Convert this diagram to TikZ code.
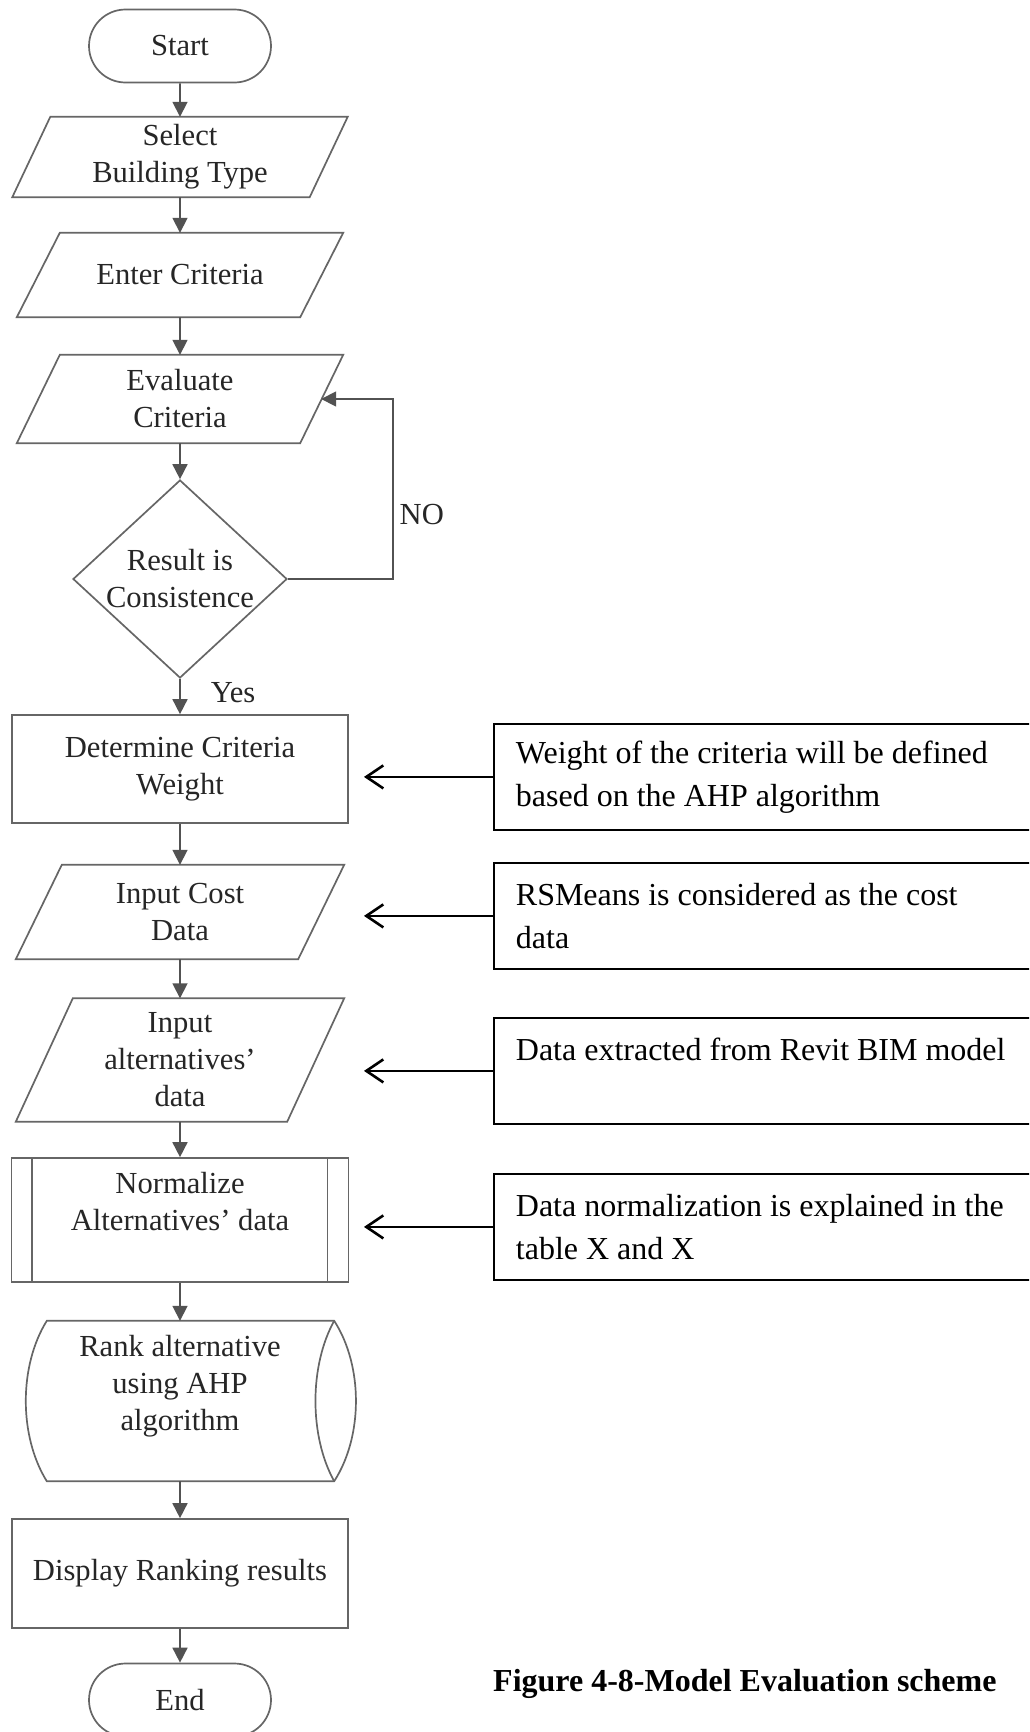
\documentclass[tikz,border=0pt]{standalone}
\usepackage{fontspec}
\setmainfont{Liberation Serif}
\usetikzlibrary{arrows.meta,shapes.geometric,shapes.misc,calc}

% outline of an input/output parallelogram drawn over an invisible frame node
\newcommand\iobox[2]{%
  \draw[shapeline] ($(#1.north west)+(#2,0)$) -- (#1.north east)
    -- ($(#1.south east)-(#2,0)$) -- (#1.south west) -- cycle;}

\begin{document}
\begin{tikzpicture}[x=1pt,y=-1pt,
  shapeline/.style={draw=black!60, line width=1.7pt},
  ftext/.style={font=\fontsize{30.6}{37}\selectfont, text=black!85, align=center},
  term/.style={rounded rectangle, shapeline, ftext, minimum width=182pt, minimum height=73pt, inner sep=0pt},
  proc/.style={rectangle, shapeline, ftext, minimum width=336pt, inner sep=0pt},
  frame/.style={rectangle, ftext, inner sep=0pt},
  decision/.style={diamond, shapeline, minimum width=214pt, minimum height=198pt, inner sep=0pt},
  flow/.style={draw=black!68, line width=1.7pt, -{Triangle[length=15pt,width=15pt]}},
  note/.style={rectangle, draw=black, line width=1.8pt, anchor=north west, minimum height=106pt,
    text width=516pt, inner xsep=22pt, inner ysep=0pt, align=flush left, font=\fontsize{32}{43}\selectfont},
  notearrow/.style={draw=black, line width=2.6pt, -{Straight Barb[length=17pt,width=23pt]}},
  lbl/.style={font=\fontsize{30.6}{37}\selectfont, text=black!85, inner sep=0pt},
]
\useasboundingbox (0,0) rectangle (1029,1732);
\fill[white] (0,0) rectangle (1029,1732);
\clip (0,0) rectangle (1029,1732);

% main flow
\node[term] (start) at (180,46) {Start};
\node[frame, minimum width=335pt, minimum height=80pt] (sel) at (180,157) {Select\\Building Type};
\node[frame, minimum width=326pt, minimum height=84pt] (ent) at (180,275) {Enter Criteria};
\node[frame, minimum width=326pt, minimum height=88pt] (eva) at (180,399) {Evaluate\\Criteria};
\node[decision] (dec) at (180,579) {};
\node[lbl, align=center] (dect) at (dec) {Result is\\Consistence};
\node[proc, minimum height=108pt] (det) at (180,769) {Determine Criteria\\Weight};
\node[frame, minimum width=328pt, minimum height=94pt] (cost) at (180,912) {Input Cost\\Data};
\node[frame, minimum width=328pt, minimum height=123pt] (alt) at (180,1060) {Input\\alternatives'\\data};
\node[proc, minimum width=337pt, minimum height=124pt] (norm) at (180,1220) {Normalize\\Alternatives' data\\\mbox{}};
\node[frame, minimum width=308pt, minimum height=160pt] (rank) at (180,1401) {Rank alternative\\using AHP\\algorithm\\\mbox{}};
\node[proc, minimum height=109pt] (disp) at (180,1573.5) {Display Ranking results};
\node[term] (end) at (180,1700) {End};

% hand-drawn outlines
\iobox{sel}{38}
\iobox{ent}{43}
\iobox{eva}{43}
\iobox{cost}{46}
\iobox{alt}{57}
\draw[shapeline] ($(norm.north west)+(21,0)$) -- ($(norm.south west)+(21,0)$);
\draw[shapeline] ($(norm.north east)+(-22,0)$) -- ($(norm.south east)+(-22,0)$);
\coordinate (rTL) at ($(rank.north west)+(21,0)$);
\coordinate (rBL) at ($(rank.south west)+(21,0)$);
\coordinate (rTR) at (rank.north east);
\coordinate (rBR) at (rank.south east);
\draw[shapeline] (rTL) -- (rTR) .. controls ($(rTR)+(29,45)$) and ($(rBR)+(29,-45)$) .. (rBR)
  -- (rBL) .. controls ($(rBL)+(-28,-45)$) and ($(rTL)+(-28,45)$) .. (rTL) -- cycle;
\draw[shapeline] (rTR) .. controls ($(rTR)+(-25,45)$) and ($(rBR)+(-25,-45)$) .. (rBR);

% connectors
\coordinate (evR) at ($(eva.east)+(-22,0)$);
\draw[flow] (start) -- (sel);
\draw[flow] (sel) -- (ent);
\draw[flow] (ent) -- (eva);
\draw[flow] (eva) -- (dec);
\draw[flow] (dec) -- node[lbl, anchor=west, xshift=30pt, yshift=4pt] (yes) {Yes} (det);
\draw[flow] (dec.east) -- ++(105,0) |- node[lbl, anchor=west, pos=0.18, xshift=6pt] (no) {NO} (evR);
\draw[flow] (det) -- (cost);
\draw[flow] (cost) -- (alt);
\draw[flow] (alt) -- (norm);
\draw[flow] (norm) -- (rank);
\draw[flow] (rank) -- (disp);
\draw[flow] (disp) -- (end);

% explanatory notes
\node[note] (n1) at (493,723) {Weight of the criteria will be defined\\based on the AHP algorithm};
\node[note] (n2) at (493,862) {RSMeans is considered as the cost\\data};
\node[note] (n3) at (493,1017) {Data extracted from Revit BIM model\\\mbox{}};
\node[note] (n4) at (493,1173) {Data normalization is explained in the\\table X and X};
\coordinate (tipx) at (364,0);
\draw[notearrow] (n1.west) -- (n1.west -| tipx);
\draw[notearrow] (n2.west) -- (n2.west -| tipx);
\draw[notearrow] (n3.west) -- (n3.west -| tipx);
\draw[notearrow] (n4.west) -- (n4.west -| tipx);

% caption
\node[font=\fontsize{32}{38}\selectfont\bfseries, anchor=west, inner sep=0pt] (cap) at (493,1684) {Figure 4-8-Model Evaluation scheme};
\end{tikzpicture}
\end{document}
